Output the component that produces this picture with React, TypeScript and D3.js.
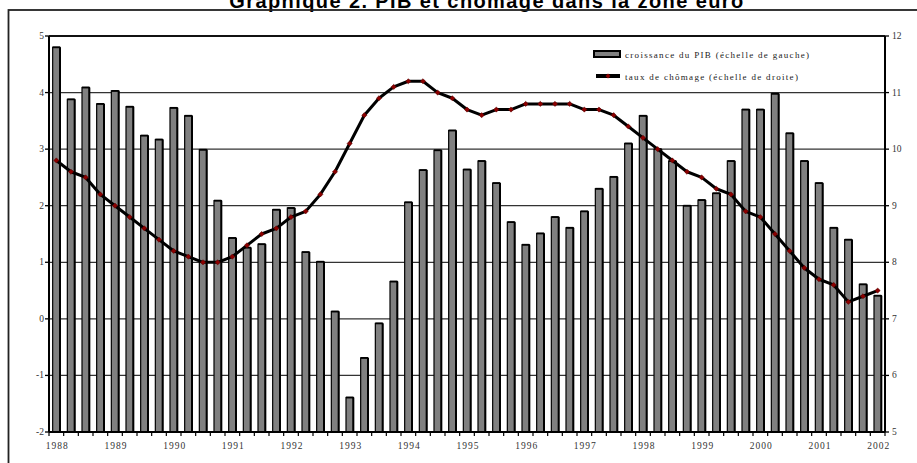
import React from "react";
import * as d3 from "d3";

const years = ["1988","1989","1990","1991","1992","1993","1994","1995","1996","1997","1998","1999","2000","2001","2002"];

const gdpGrowth = [
  4.8, 3.88, 4.09, 3.8, 4.03, 3.75, 3.24, 3.17, 3.73, 3.59, 2.99, 2.09, 1.43, 1.26, 1.32, 1.93,
  1.96, 1.18, 1.01, 0.13, -1.39, -0.69, -0.08, 0.66, 2.06, 2.63, 2.98, 3.33, 2.64, 2.79, 2.4,
  1.71, 1.31, 1.51, 1.8, 1.61, 1.9, 2.3, 2.51, 3.1, 3.59, 3.0, 2.79, 2.0,
  2.1, 2.22, 2.79, 3.7, 3.7, 3.98, 3.28, 2.79, 2.4, 1.61, 1.4, 0.61, 0.41,
];

const unemployment = [
  9.8, 9.6, 9.5, 9.2, 9.0, 8.8, 8.6, 8.4, 8.2, 8.1, 8.0, 8.0, 8.1, 8.3, 8.5, 8.6,
  8.8, 8.9, 9.2, 9.6, 10.1, 10.6, 10.9, 11.1, 11.2, 11.2, 11.0, 10.9, 10.7, 10.6, 10.7,
  10.7, 10.8, 10.8, 10.8, 10.8, 10.7, 10.7, 10.6, 10.4, 10.2, 10.0, 9.8, 9.6,
  9.5, 9.3, 9.2, 8.9, 8.8, 8.5, 8.2, 7.9, 7.7, 7.6, 7.3, 7.4, 7.5,
];

const leftTicks = [-2, -1, 0, 1, 2, 3, 4, 5];
const rightTicks = [5, 6, 7, 8, 9, 10, 11, 12];

const title = "Graphique 2. PIB et chômage dans la zone euro";
const legendGdp = "croissance du PIB (échelle de gauche)";
const legendUnemp = "taux de chômage (échelle de droite)";

export default function App() {
  const W = 917, H = 463;
  const left = 49, right = 885, top = 36, bottom = 432;
  const idx = gdpGrowth.map((_, i) => i);
  const x = d3.scaleBand<number>().domain(idx).range([left, right]).paddingInner(0.5).paddingOuter(0.25);
  const yL = d3.scaleLinear().domain([-2, 5]).range([bottom, top]);
  const yR = d3.scaleLinear().domain([5, 12]).range([bottom, top]);
  const step = x.step();
  const bw = x.bandwidth();
  const cx = (i: number) => (x(i) as number) + bw / 2;

  const line = d3.line<number>().x((_, i) => cx(i)).y((d) => yR(d));

  const serif = "'Liberation Serif', 'DejaVu Serif', serif";
  const diamond = (px: number, py: number, r = 2.6) =>
    `M${px},${py - r}L${px + r},${py}L${px},${py + r}L${px - r},${py}Z`;

  const bounds = d3.range(gdpGrowth.length + 1).map((i) => left + i * step);

  return (
    <svg width={W} height={H} style={{ position: "absolute", left: 0, top: 0, background: "#fff" }}>
      <rect x={0} y={0} width={W} height={H} fill="#fff" />
      {/* title (partially clipped at top, as in the reference) */}
      <text x={487} y={8} textAnchor="middle" fontFamily="'Liberation Sans', Arial, sans-serif"
        fontWeight="bold" fontSize={20} letterSpacing={1.4} fill="#000">{title}</text>
      {/* outer frame */}
      <rect x={8.5} y={10} width={W + 10} height={H + 10} fill="none" stroke="#222" strokeWidth={1.8} />

      {/* gridlines */}
      {leftTicks.map((t) => (
        <line key={"g" + t} x1={left} x2={right} y1={yL(t)} y2={yL(t)} stroke="#333" strokeWidth={1.3} />
      ))}

      {/* bars from the bottom of the axis */}
      {gdpGrowth.map((v, i) => {
        const bx = x(i) as number;
        const by = yL(v);
        return (
          <g key={"b" + i}>
            <rect x={bx} y={by} width={bw} height={bottom - by} fill="#808080" stroke="#000" strokeWidth={1.2} />
            <line x1={bx + bw} x2={bx + bw} y1={by} y2={bottom} stroke="#000" strokeWidth={2} />
            <line x1={bx} x2={bx + bw} y1={by} y2={by} stroke="#000" strokeWidth={1.8} />
          </g>
        );
      })}

      {/* unemployment line */}
      <path d={line(unemployment) || ""} fill="none" stroke="#000" strokeWidth={3} strokeLinejoin="round" />
      {unemployment.map((v, i) => (
        <path key={"m" + i} d={diamond(cx(i), yR(v))} fill="#8b0000" stroke="#5a0000" strokeWidth={0.5} />
      ))}

      {/* plot frame / axes */}
      <line x1={left} x2={right} y1={top} y2={top} stroke="#111" strokeWidth={1.8} />
      <line x1={left} x2={left} y1={top} y2={bottom} stroke="#000" strokeWidth={2} />
      <line x1={right} x2={right} y1={top} y2={bottom} stroke="#000" strokeWidth={2} />
      <line x1={left} x2={right} y1={bottom} y2={bottom} stroke="#000" strokeWidth={2.2} />

      {/* left ticks */}
      {leftTicks.map((t) => (
        <g key={"l" + t}>
          <line x1={left - 4} x2={left} y1={yL(t)} y2={yL(t)} stroke="#000" strokeWidth={1.3} />
          <text x={44} y={yL(t) + 3} textAnchor="end" fontFamily={serif} fontSize={9.5} fill="#333">{t}</text>
        </g>
      ))}
      {/* right ticks */}
      {rightTicks.map((t) => (
        <g key={"r" + t}>
          <line x1={right} x2={right + 4} y1={yR(t)} y2={yR(t)} stroke="#000" strokeWidth={1.3} />
          <text x={892} y={yR(t) + 3} textAnchor="start" fontFamily={serif} fontSize={9.5} fill="#333">{t}</text>
        </g>
      ))}
      {/* x ticks */}
      {bounds.map((bx, i) => (
        <line key={"xt" + i} x1={bx} x2={bx} y1={bottom} y2={bottom + 4} stroke="#000" strokeWidth={1.2} />
      ))}
      {years.map((yr, k) => (
        <text key={"y" + yr} x={cx(k * 4) + 1} y={449} textAnchor="middle" fontFamily={serif} fontSize={9.5}
          letterSpacing={1} fill="#333">{yr}</text>
      ))}

      {/* legend */}
      <rect x={594} y={51} width={26} height={6} fill="#808080" stroke="#000" strokeWidth={2} />
      <text x={625} y={58} fontFamily={serif} fontSize={9} letterSpacing={1.3} fill="#222">{legendGdp}</text>
      <line x1={596} x2={620} y1={76} y2={76} stroke="#000" strokeWidth={4} />
      <path d={diamond(608, 76, 2.4)} fill="#8b0000" />
      <text x={625} y={80} fontFamily={serif} fontSize={9} letterSpacing={1.3} fill="#222">{legendUnemp}</text>
    </svg>
  );
}
